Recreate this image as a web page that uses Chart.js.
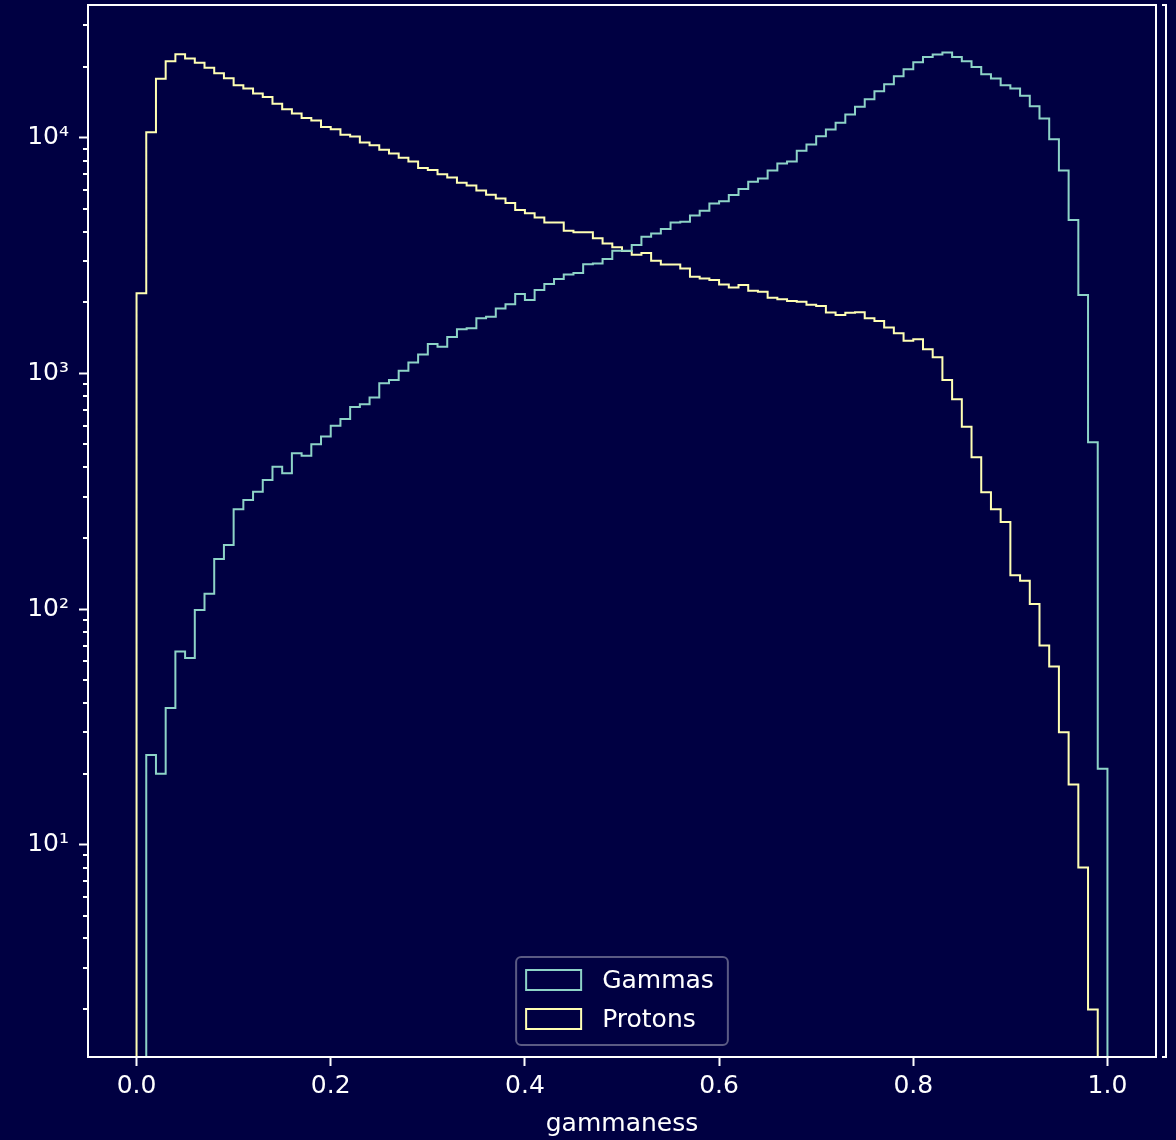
<!DOCTYPE html>
<html>
<head>
<meta charset="utf-8">
<script src="https://cdn.jsdelivr.net/npm/chart.js@4.4.1/dist/chart.umd.min.js"></script>
<style>
  html, body { margin: 0; padding: 0; background: #000042; }
  canvas { display: block; }
</style>
</head>
<body>
<canvas id="hist" width="1176" height="1140"></canvas>
<script>
// 100 bins of width 0.01 between 0 and 1
const binStart = 0.0;
const binWidth = 0.01;

const gammaCounts = [
  0, 24, 20, 38, 66, 62, 99, 116, 163, 187,
  265, 290, 315, 353, 402, 377, 458, 447, 500, 540,
  600, 640, 720, 740, 790, 908, 938, 1026, 1113, 1204,
  1333, 1298, 1427, 1538, 1553, 1713, 1740, 1888, 1968, 2171,
  2048, 2258, 2395, 2514, 2632, 2667, 2903, 2930, 3057, 3313,
  3313, 3508, 3804, 3929, 4100, 4370, 4400, 4680, 4900, 5260,
  5380, 5710, 6060, 6510, 6720, 7260, 7780, 7930, 8800, 9370,
  10160, 10840, 11570, 12550, 13530, 14580, 15770, 16880, 18250, 19530,
  20930, 22040, 22560, 23000, 22040, 21140, 19990, 18620, 17830, 16710,
  16190, 15060, 13620, 12070, 9860, 7260, 4480, 2150, 510, 21
];

const protonCounts = [
  2190, 10560, 17800, 21100, 22600, 21700, 20800, 19800, 18800, 17900,
  16700, 16200, 15400, 14900, 13960, 13200, 12670, 12140, 11830, 11120,
  10870, 10290, 10120, 9550, 9300, 8890, 8580, 8230, 7930, 7450,
  7290, 7010, 6790, 6450, 6280, 5980, 5730, 5530, 5290, 4940,
  4780, 4590, 4370, 4370, 4030, 3970, 3970, 3750, 3560, 3430,
  3310, 3190, 3240, 3010, 2900, 2900, 2790, 2572, 2531, 2489,
  2387, 2317, 2370, 2243, 2222, 2096, 2063, 2029, 2015, 1956,
  1931, 1815, 1769, 1808, 1820, 1714, 1668, 1565, 1479, 1377,
  1396, 1266, 1170, 938, 776, 594, 441, 313, 265, 234,
  139, 132, 105, 70, 57, 30, 18, 8, 2, 0
];

const seriesNames = ['Gammas', 'Protons'];
const seriesColors = ['#8dd3c7', '#ffffb3'];
const xTicks = [0.0, 0.2, 0.4, 0.6, 0.8, 1.0];
const xLabel = 'gammaness';
const supers = { 1: '\u00b9', 2: '\u00b2', 3: '\u00b3', 4: '\u2074' };

const bgColor = '#000042';
const fgColor = '#ffffff';
const xMin = -0.05, xMax = 1.05;
const yMin = 1.256, yMax = 36600;

Chart.defaults.font.family = '"DejaVu Sans", sans-serif';
Chart.defaults.color = fgColor;

// outline of a step histogram, empty bins sit on the axis floor
function stepPoints(counts) {
  const pts = [{ x: binStart, y: yMin }];
  counts.forEach((c, i) => {
    pts.push({ x: binStart + (i + 1) * binWidth, y: c > 0 ? c : yMin });
  });
  pts.push({ x: binStart + counts.length * binWidth, y: yMin });
  return pts;
}

const extras = {
  id: 'extras',
  beforeDraw(chart) {
    const ctx = chart.ctx;
    ctx.save();
    ctx.fillStyle = bgColor;
    ctx.fillRect(0, 0, chart.width, chart.height);
    ctx.restore();
  },
  afterDatasetsDraw(chart) {
    const { ctx, chartArea: a, scales } = chart;
    ctx.save();
    ctx.strokeStyle = fgColor;
    ctx.lineWidth = 2;
    // minor ticks on log axis
    scales.y.ticks.forEach(t => {
      if (t.major) return;
      const py = Math.round(scales.y.getPixelForValue(t.value));
      ctx.beginPath();
      ctx.moveTo(a.left - 5, py);
      ctx.lineTo(a.left, py);
      ctx.stroke();
    });
    ctx.strokeRect(a.left, a.top, a.right - a.left, a.bottom - a.top);
    // stray empty axis on the right
    const bx = a.right + 10;
    ctx.beginPath();
    ctx.moveTo(bx - 4, a.top);
    ctx.lineTo(bx, a.top);
    ctx.lineTo(bx, a.bottom);
    ctx.lineTo(bx - 4, a.bottom);
    ctx.stroke();
    ctx.restore();
  },
  afterDraw(chart) {
    const { ctx, chartArea: a } = chart;
    const sets = chart.data.datasets;
    ctx.save();
    ctx.font = '25px "DejaVu Sans"';
    const textW = Math.max(...sets.map(d => ctx.measureText(d.label).width));
    const padX = 10, patchW = 55, patchH = 20, gap = 21, rowH = 39, padTop = 13, padRight = 14;
    const boxW = padX + patchW + gap + textW + padRight;
    const boxH = 88;
    const x0 = (a.left + a.right) / 2 - boxW / 2;
    const y0 = a.bottom - 12 - boxH;
    ctx.beginPath();
    ctx.roundRect(x0, y0, boxW, boxH, 5);
    ctx.fillStyle = 'rgba(0,0,66,0.8)';
    ctx.fill();
    ctx.strokeStyle = 'rgba(200,200,210,0.45)';
    ctx.lineWidth = 2;
    ctx.stroke();
    sets.forEach((d, i) => {
      const py = y0 + padTop + i * rowH;
      ctx.strokeStyle = d.borderColor;
      ctx.lineWidth = 2;
      ctx.strokeRect(x0 + padX, py, patchW, patchH);
      ctx.fillStyle = fgColor;
      ctx.textBaseline = 'middle';
      ctx.textAlign = 'left';
      ctx.fillText(d.label, x0 + padX + patchW + gap, py + patchH / 2 + 1);
    });
    ctx.restore();
  }
};

new Chart(document.getElementById('hist'), {
  type: 'line',
  data: {
    datasets: [
      {
        label: seriesNames[0],
        data: stepPoints(gammaCounts),
        borderColor: seriesColors[0],
        borderWidth: 2,
        stepped: 'after',
        pointRadius: 0,
        fill: false
      },
      {
        label: seriesNames[1],
        data: stepPoints(protonCounts),
        borderColor: seriesColors[1],
        borderWidth: 2,
        stepped: 'after',
        pointRadius: 0,
        fill: false
      }
    ]
  },
  options: {
    responsive: false,
    animation: false,
    layout: { padding: { top: 5, right: 20, left: 0, bottom: 0 } },
    plugins: {
      legend: { display: false },
      tooltip: { enabled: false }
    },
    scales: {
      x: {
        type: 'linear',
        min: xMin,
        max: xMax,
        afterBuildTicks: scale => {
          scale.ticks = xTicks.map(v => ({ value: v }));
        },
        afterFit: scale => {
          scale.height = 83;
          scale.paddingLeft = 0;
          scale.paddingRight = 0;
        },
        ticks: {
          autoSkip: false,
          maxRotation: 0,
          padding: 5,
          color: fgColor,
          font: { size: 25 },
          callback: v => Number(v).toFixed(1)
        },
        grid: {
          drawOnChartArea: false,
          tickLength: 9,
          tickWidth: 2,
          tickColor: fgColor
        },
        border: { display: false },
        title: {
          display: true,
          text: xLabel,
          color: fgColor,
          font: { size: 25 },
          padding: { top: 0, bottom: 1 }
        }
      },
      y: {
        type: 'logarithmic',
        min: yMin,
        max: yMax,
        afterBuildTicks: scale => {
          const ticks = [];
          for (let e = 0; e <= 4; e++) {
            for (let m = 1; m <= 9; m++) {
              const v = m * Math.pow(10, e);
              if (v >= yMin && v <= yMax) ticks.push({ value: v, major: m === 1 });
            }
          }
          scale.ticks = ticks;
        },
        afterFit: scale => {
          scale.width = 88;
          scale.paddingTop = 0;
          scale.paddingBottom = 0;
        },
        ticks: {
          autoSkip: false,
          padding: 10,
          color: fgColor,
          font: { size: 25 },
          callback: function (v) {
            const e = Math.round(Math.log10(v));
            return Math.abs(v - Math.pow(10, e)) < 1e-6 ? '10' + supers[e] : '';
          }
        },
        grid: {
          drawOnChartArea: false,
          tickLength: 9,
          tickWidth: 2,
          tickColor: ctx => (ctx.tick && ctx.tick.major ? fgColor : 'rgba(0,0,0,0)')
        },
        border: { display: false }
      }
    }
  },
  plugins: [extras]
});
</script>
</body>
</html>
